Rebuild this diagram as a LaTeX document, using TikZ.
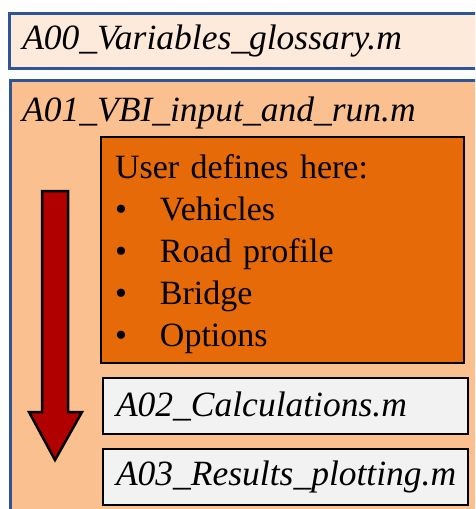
\documentclass[tikz,border=0pt]{standalone}
\usepackage{fontspec}
\setmainfont{Liberation Serif}

\definecolor{glossfill}{RGB}{253,234,218}
\definecolor{runfill}{RGB}{251,192,143}
\definecolor{userfill}{RGB}{230,106,8}
\definecolor{filefill}{RGB}{242,242,242}
\definecolor{frameblue}{RGB}{47,85,151}
\definecolor{flowred}{RGB}{176,0,0}

\newcommand{\userpoint}{\makebox[45pt][l]{\textbullet}}

\tikzset{
  bigfont/.style={font=\fontsize{34}{42}\selectfont},
  namefont/.style={font=\fontsize{35.5}{42}\selectfont\itshape},
  mfile/.style={namefont, draw=black, line width=2pt, fill=filefill,
    anchor=north west, minimum height=56pt, minimum width=365pt, text width=339pt,
    inner xsep=13pt, inner ysep=0pt, align=left},
  outerbox/.style={draw=frameblue, line width=2.5pt, anchor=north west},
}

\begin{document}
\begin{tikzpicture}[x=1pt,y=-1pt]
  \useasboundingbox (0,0) rectangle (475,509);
  \clip (0,0) rectangle (475,509);

  % glossary file on top
  \node[mfile, outerbox, fill=glossfill, minimum width=490pt, minimum height=55pt,
    text width=464pt] (gloss) at (8,12) {A00\_Variables\_glossary.m};

  % main script and what it holds
  \node[outerbox, fill=runfill, minimum width=490pt, minimum height=450pt] (run) at (9,79) {};
  \node[namefont, anchor=base west, inner sep=0pt]
    (runname) at (22,121) {A01\_VBI\_input\_and\_run.m};

  \node[bigfont, draw=black, line width=2pt, fill=userfill, anchor=north west,
    minimum width=363pt, minimum height=226pt, text width=335pt, inner xsep=14pt,
    align=left] (user) at (100,136)
    {\rule{0pt}{32pt}User defines here:\\
     \userpoint Vehicles\\
     \userpoint Road profile\\
     \userpoint Bridge\\
     \userpoint Options};

  \node[mfile] (calc) at (102,377) {A02\_Calculations.m};
  \node[mfile] (plot) at (102,448) {A03\_Results\_plotting.m};

  % run order
  \draw[fill=flowred, line width=2.5pt, line join=miter]
    (42,191) -- (68,191) -- (68,412) -- (82,412) -- (55,460) -- (29,412) -- (42,412) -- cycle;
\end{tikzpicture}
\end{document}
